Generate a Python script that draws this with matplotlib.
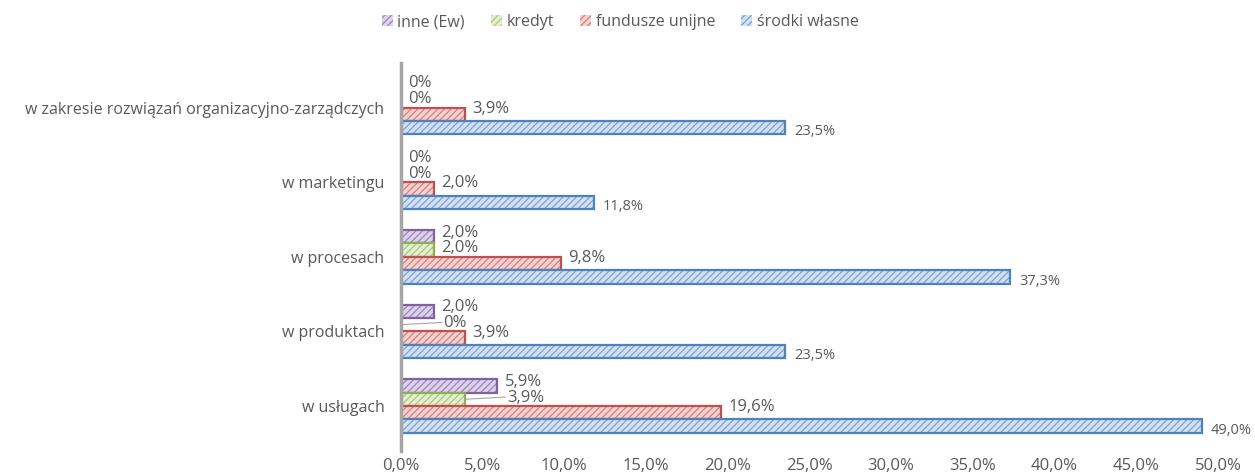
import numpy as np
import matplotlib.pyplot as plt

plt.rcParams["font.family"] = ["Open Sans", "DejaVu Sans"]
plt.rcParams["hatch.linewidth"] = 0.9

categories = [
    "w zakresie rozwiązań organizacyjno-zarządczych",
    "w marketingu",
    "w procesach",
    "w produktach",
    "w usługach",
]
series = ["inne (Ew)", "kredyt", "fundusze unijne", "środki własne"]
inne = [0.0, 0.0, 2.0, 2.0, 5.9]
kredyt = [0.0, 0.0, 2.0, 0.0, 3.9]
fundusze = [3.9, 2.0, 9.8, 3.9, 19.6]
srodki = [23.5, 11.8, 37.3, 23.5, 49.0]
xticks = [0, 5, 10, 15, 20, 25, 30, 35, 40, 45, 50]

values = [inne, kredyt, fundusze, srodki]
edge = ["#7F63A1", "#8DB050", "#C0504D", "#4F81BD"]
fill = ["#DCD3EA", "#E3EED2", "#F2D2D1", "#D3E0F1"]
hatchc = ["#9C86BC", "#A9C878", "#D8807D", "#7FA2D3"]
text_c = "#595959"
lab_dy = [-0.08, -0.05, -0.1]


def fmt(v):
    return "0%" if v == 0 else f"{v:.1f}%".replace(".", ",")


fig = plt.figure(figsize=(12.55, 4.72), dpi=100)
ax = fig.add_axes([0.3195, 0.045, 0.651, 0.822])

y = np.arange(len(categories))
h = 0.18
for i, (vals, name) in enumerate(zip(values, series)):
    pos = y + (i - 1.5) * h
    ax.barh(pos, vals, height=h, color=fill[i], edgecolor=hatchc[i],
            hatch="/////", linewidth=0, label=name)
    ax.barh(pos, vals, height=h, fill=False, edgecolor=edge[i], linewidth=1.6)
    for k, (p, v) in enumerate(zip(pos, vals)):
        if i < 3:
            x = v + 0.45
            # label pushed right of a longer bar just above it
            if i > 0 and values[i - 1][k] > v:
                x = values[i - 1][k] + 0.6
                ax.plot([v, x - 0.1], [p, p + lab_dy[i] * 0.6],
                        color="#A6A6A6", lw=0.8)
            ax.text(x, p + lab_dy[i], fmt(v), fontsize=12, color=text_c,
                    va="center_baseline", ha="left")
        else:
            ax.text(v + 0.55, p + 0.03, fmt(v), fontsize=10.5, color=text_c,
                    va="center_baseline", ha="left")

ax.set_ylim(len(categories) - 0.4, -0.6)
ax.set_xlim(0, 50)
ax.set_yticks(y)
ax.set_yticklabels(categories, fontsize=11.5, color=text_c)
ax.set_xticks(xticks)
ax.set_xticklabels([f"{t:.1f}%".replace(".", ",") for t in xticks],
                   fontsize=12, color=text_c)
ax.tick_params(axis="both", length=0)
ax.tick_params(axis="y", pad=12)
ax.tick_params(axis="x", pad=5)
for s in ["top", "right", "bottom"]:
    ax.spines[s].set_visible(False)
ax.spines["left"].set_color("#A6A6A6")
ax.spines["left"].set_linewidth(2.5)

handles, labels = ax.get_legend_handles_labels()
fig.legend(handles, labels, loc="upper center", bbox_to_anchor=(0.494, 1.0),
           ncol=4, frameon=False, fontsize=11.5, labelcolor=text_c,
           handlelength=0.7, handleheight=0.7, handletextpad=0.3,
           columnspacing=1.6)

fig.savefig("out.png", dpi=100)
